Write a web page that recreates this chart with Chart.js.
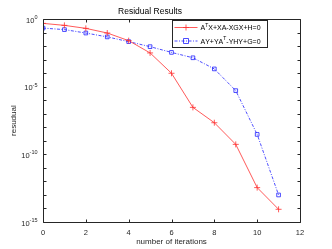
<!DOCTYPE html>
<html>
<head>
<meta charset="utf-8">
<script src="https://cdn.jsdelivr.net/npm/chart.js@4/dist/chart.umd.min.js"></script>
<style>
  html, body { margin: 0; padding: 0; background: #fff; }
</style>
</head>
<body>
<canvas id="residualChart" width="332" height="249"></canvas>
<script>
// values
const iterations = [0, 1, 2, 3, 4, 5, 6, 7, 8, 9, 10, 11];
const residualCare = [0.49, 0.35, 0.21, 0.095, 0.026, 3.2e-3, 1.0e-4, 3.0e-7, 2.2e-8, 5.5e-10, 3.5e-13, 8.7e-15];
const residualDual = [0.22, 0.17, 0.095, 0.049, 0.022, 9.3e-3, 3.5e-3, 1.4e-3, 2.1e-4, 5.2e-6, 3.0e-9, 1.0e-13];
const xTicks = [0, 2, 4, 6, 8, 10, 12];
const yDecades = [0, -1, -2, -3, -4, -5, -6, -7, -8, -9, -10, -11, -12, -13, -14, -15];
const yLabelDecades = [0, -5, -10, -15];
const legendLabels = ['A^TX+XA-XGX+H=0', 'AY+YA^T-YHY+G=0'];

const FONT = 'Liberation Sans, Arial, Helvetica, sans-serif';
const AXIS_COLOR = '#262626';

// draws text, a "^" makes the next char a superscript
function drawSupText(ctx, str, x, y, size) {
    let cx = x;
    for (let i = 0; i < str.length; i++) {
        if (str[i] === '^') {
            i++;
            ctx.font = (size - 2) + 'px ' + FONT;
            ctx.fillText(str[i], cx, y - 3);
            cx += ctx.measureText(str[i]).width;
        } else {
            ctx.font = size + 'px ' + FONT;
            ctx.fillText(str[i], cx, y);
            cx += ctx.measureText(str[i]).width;
        }
    }
    return cx;
}

// MATLAB style box, inward ticks, y labels and legend
const matlabFrame = {
    id: 'matlabFrame',
    afterDatasetsDraw(chart) {
        const { ctx, chartArea: a, scales } = chart;
        const L = Math.round(a.left) + 0.5, R = Math.round(a.right) + 0.5;
        const T = Math.round(a.top) + 0.5, B = Math.round(a.bottom) + 0.5;
        ctx.save();
        ctx.strokeStyle = AXIS_COLOR;
        ctx.lineWidth = 1;
        ctx.beginPath();
        ctx.rect(L, T, R - L, B - T);
        const tl = 3;
        xTicks.forEach(v => {
            const px = Math.round(scales.x.getPixelForValue(v)) + 0.5;
            ctx.moveTo(px, B); ctx.lineTo(px, B - tl);
            ctx.moveTo(px, T); ctx.lineTo(px, T + tl);
        });
        yDecades.forEach(d => {
            const py = Math.round(scales.y.getPixelForValue(Math.pow(10, d))) + 0.5;
            ctx.moveTo(L, py); ctx.lineTo(L + tl, py);
            ctx.moveTo(R, py); ctx.lineTo(R - tl, py);
        });
        ctx.stroke();

        // y tick labels with superscript exponent
        ctx.fillStyle = AXIS_COLOR;
        ctx.textBaseline = 'middle';
        yLabelDecades.forEach(d => {
            const py = scales.y.getPixelForValue(Math.pow(10, d));
            ctx.font = '5.5px ' + FONT;
            const ew = ctx.measureText(String(d)).width;
            ctx.font = '7.5px ' + FONT;
            const bw = ctx.measureText('10').width;
            const x0 = L - 6 - ew - bw;
            drawSupText(ctx, '10^' + String(d).split('').join('^'), x0, py + 1.5, 7.5);
        });

        // legend
        const bx = 172.5, by = 20.5, bw = 95, bh = 27;
        ctx.fillStyle = '#fff';
        ctx.fillRect(bx, by, bw, bh);
        ctx.strokeStyle = AXIS_COLOR;
        ctx.strokeRect(bx, by, bw, bh);
        chart.data.datasets.forEach((ds, i) => {
            const ly = by + 7 + i * 13.5;
            ctx.strokeStyle = ds.borderColor;
            ctx.lineWidth = ds.borderWidth;
            ctx.setLineDash(ds.borderDash || []);
            ctx.beginPath();
            ctx.moveTo(bx + 2, ly); ctx.lineTo(bx + 25, ly);
            ctx.stroke();
            ctx.setLineDash([]);
            const mx = bx + 13.5;
            ctx.beginPath();
            if (ds.pointStyle === 'cross') {
                ctx.moveTo(mx - 3, ly); ctx.lineTo(mx + 3, ly);
                ctx.moveTo(mx, ly - 3); ctx.lineTo(mx, ly + 3);
            } else {
                ctx.rect(mx - 2.5, ly - 2.5, 5, 5);
            }
            ctx.stroke();
            ctx.fillStyle = '#000';
            ctx.textBaseline = 'middle';
            drawSupText(ctx, legendLabels[i], bx + 28, ly + 1, 7);
        });
        ctx.restore();
    }
};

new Chart(document.getElementById('residualChart'), {
    type: 'line',
    data: {
        datasets: [
            {
                label: legendLabels[0],
                data: iterations.map((it, i) => ({ x: it, y: residualCare[i] })),
                borderColor: '#ff3030',
                borderWidth: 0.8,
                pointStyle: 'cross',
                pointRadius: 3,
                pointBorderColor: '#ff3030',
                pointBorderWidth: 0.8,
                fill: false,
                tension: 0
            },
            {
                label: legendLabels[1],
                data: iterations.map((it, i) => ({ x: it, y: residualDual[i] })),
                borderColor: '#2020ff',
                borderWidth: 0.8,
                borderDash: [3, 1.5, 1, 1.5],
                pointStyle: 'rect',
                pointRadius: 2.6,
                pointBackgroundColor: 'rgba(0,0,0,0)',
                pointBorderColor: '#2020ff',
                pointBorderWidth: 0.8,
                fill: false,
                tension: 0
            }
        ]
    },
    options: {
        responsive: false,
        animation: false,
        devicePixelRatio: 1,
        layout: { padding: { left: 0, right: 32, top: 0, bottom: 0 } },
        plugins: {
            legend: { display: false },
            tooltip: { enabled: false },
            title: {
                display: true,
                text: 'Residual Results',
                color: '#000',
                font: { family: FONT, size: 8.5, weight: 'normal' },
                padding: { top: 7, bottom: 2 }
            }
        },
        scales: {
            x: {
                type: 'linear',
                min: 0,
                max: 12,
                grid: { display: false },
                border: { display: false },
                afterBuildTicks: (scale) => { scale.ticks = xTicks.map(v => ({ value: v })); },
                ticks: {
                    color: AXIS_COLOR,
                    font: { family: FONT, size: 7.5 },
                    padding: -2,
                    maxRotation: 0
                },
                title: {
                    display: true,
                    text: 'number of iterations',
                    color: AXIS_COLOR,
                    font: { family: FONT, size: 8 },
                    padding: { top: 0, bottom: 2 }
                },
                afterFit: (scale) => { scale.height = 27; }
            },
            y: {
                type: 'logarithmic',
                min: 1e-15,
                max: 1,
                grid: { display: false },
                border: { display: false },
                afterBuildTicks: (scale) => { scale.ticks = yDecades.map(d => ({ value: Math.pow(10, d) })); },
                ticks: { display: false },
                title: {
                    display: true,
                    text: 'resudual',
                    color: AXIS_COLOR,
                    font: { family: FONT, size: 8 },
                    padding: { top: 8.5, bottom: 0 }
                },
                afterFit: (scale) => { scale.width = 43; }
            }
        }
    },
    plugins: [matlabFrame]
});
</script>
</body>
</html>
